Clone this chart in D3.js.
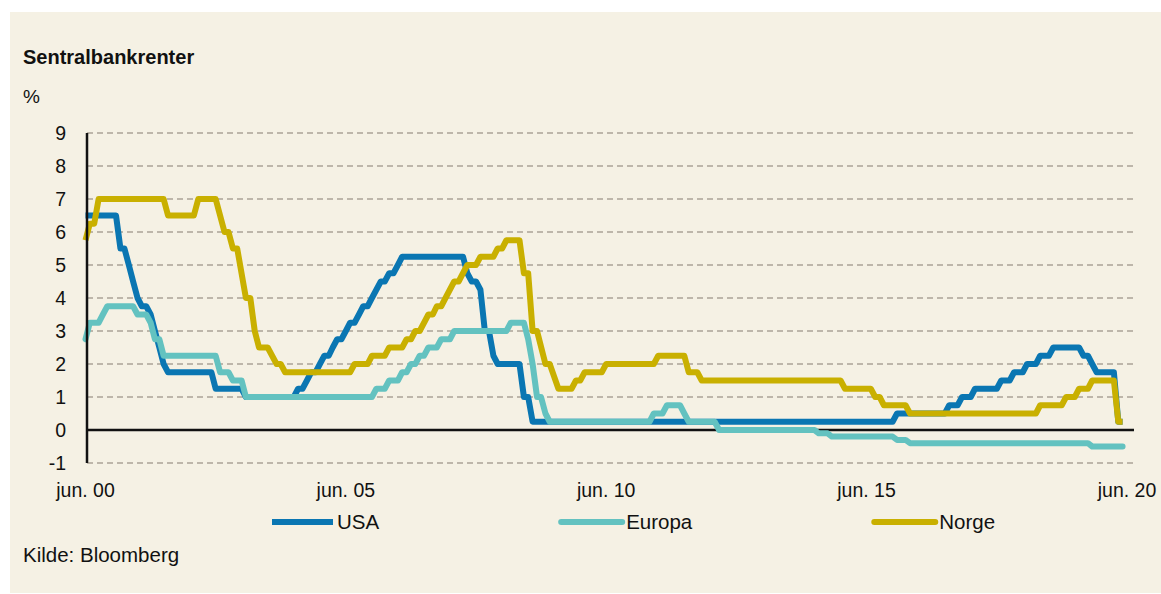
<!DOCTYPE html>
<html>
<head>
<meta charset="utf-8">
<script src="https://cdn.jsdelivr.net/npm/d3@7"></script>
<style>
  body { margin: 0; background: #ffffff; }
  text { font-family: "Liberation Sans", Arial, sans-serif; fill: #111; }
</style>
</head>
<body>
<div class="content"></div>
<script>
// Styrings-/sentralbankrenter, verdi ved starten av hver måned (hjørnepunkter i linja)
var usa = [
  ["2000-06",6.5],["2001-01",6.5],["2001-02",5.5],["2001-03",5.5],["2001-04",5.0],["2001-05",4.5],
  ["2001-06",4.0],["2001-07",3.75],["2001-08",3.75],["2001-09",3.5],["2001-10",3.0],["2001-11",2.5],
  ["2001-12",2.0],["2002-01",1.75],["2002-11",1.75],["2002-12",1.25],["2003-06",1.25],["2003-07",1.0],
  ["2004-06",1.0],["2004-07",1.25],["2004-08",1.25],["2004-09",1.5],["2004-10",1.75],["2004-11",1.75],
  ["2004-12",2.0],["2005-01",2.25],["2005-02",2.25],["2005-03",2.5],["2005-04",2.75],["2005-05",2.75],
  ["2005-06",3.0],["2005-07",3.25],["2005-08",3.25],["2005-09",3.5],["2005-10",3.75],["2005-11",3.75],
  ["2005-12",4.0],["2006-01",4.25],["2006-02",4.5],["2006-03",4.5],["2006-04",4.75],["2006-05",4.75],
  ["2006-06",5.0],["2006-07",5.25],["2007-09",5.25],["2007-10",4.75],["2007-11",4.5],["2007-12",4.5],
  ["2008-01",4.25],["2008-02",3.0],["2008-03",3.0],["2008-04",2.25],["2008-05",2.0],["2008-10",2.0],
  ["2008-11",1.0],["2008-12",1.0],["2009-01",0.25],["2015-12",0.25],["2016-01",0.5],["2016-12",0.5],
  ["2017-01",0.75],["2017-03",0.75],["2017-04",1.0],["2017-06",1.0],["2017-07",1.25],["2017-12",1.25],
  ["2018-01",1.5],["2018-03",1.5],["2018-04",1.75],["2018-06",1.75],["2018-07",2.0],["2018-09",2.0],
  ["2018-10",2.25],["2018-12",2.25],["2019-01",2.5],["2019-07",2.5],["2019-08",2.25],["2019-09",2.25],
  ["2019-10",2.0],["2019-11",1.75],["2020-03",1.75],["2020-04",0.25],["2020-05",0.25]
];

var europa = [
  ["2000-06",2.75],["2000-07",3.25],["2000-09",3.25],["2000-10",3.5],["2000-11",3.75],["2001-05",3.75],
  ["2001-06",3.5],["2001-08",3.5],["2001-09",3.25],["2001-10",2.75],["2001-11",2.75],["2001-12",2.25],
  ["2002-12",2.25],["2003-01",1.75],["2003-03",1.75],["2003-04",1.5],["2003-06",1.5],["2003-07",1.0],
  ["2005-12",1.0],["2006-01",1.25],["2006-03",1.25],["2006-04",1.5],["2006-06",1.5],["2006-07",1.75],
  ["2006-08",1.75],["2006-09",2.0],["2006-10",2.0],["2006-11",2.25],["2006-12",2.25],["2007-01",2.5],
  ["2007-03",2.5],["2007-04",2.75],["2007-06",2.75],["2007-07",3.0],["2008-07",3.0],["2008-08",3.25],
  ["2008-11",3.25],["2008-12",2.75],["2009-01",2.0],["2009-02",1.0],["2009-03",1.0],["2009-04",0.5],
  ["2009-05",0.25],["2011-04",0.25],["2011-05",0.5],["2011-07",0.5],["2011-08",0.75],["2011-11",0.75],
  ["2011-12",0.5],["2012-01",0.25],["2012-07",0.25],["2012-08",0.0],["2014-06",0.0],["2014-07",-0.1],
  ["2014-09",-0.1],["2014-10",-0.2],["2015-12",-0.2],["2016-01",-0.3],["2016-03",-0.3],["2016-04",-0.4],
  ["2019-09",-0.4],["2019-10",-0.5],["2020-05",-0.5]
];

var norge = [
  ["2000-06",5.75],["2000-07",6.25],["2000-08",6.25],["2000-09",7.0],["2001-12",7.0],["2002-01",6.5],
  ["2002-07",6.5],["2002-08",7.0],["2002-12",7.0],["2003-02",6.0],["2003-03",6.0],["2003-04",5.5],
  ["2003-05",5.5],["2003-07",4.0],["2003-08",4.0],["2003-09",3.0],["2003-10",2.5],["2003-12",2.5],
  ["2004-01",2.25],["2004-02",2.0],["2004-03",2.0],["2004-04",1.75],["2005-07",1.75],["2005-08",2.0],
  ["2005-11",2.0],["2005-12",2.25],["2006-03",2.25],["2006-04",2.5],["2006-07",2.5],["2006-08",2.75],
  ["2006-09",2.75],["2006-10",3.0],["2006-11",3.0],["2007-01",3.5],["2007-02",3.5],["2007-03",3.75],
  ["2007-04",3.75],["2007-05",4.0],["2007-07",4.5],["2007-08",4.5],["2007-10",5.0],["2007-12",5.0],
  ["2008-01",5.25],["2008-04",5.25],["2008-05",5.5],["2008-06",5.5],["2008-07",5.75],["2008-10",5.75],
  ["2008-11",4.75],["2008-12",4.75],["2009-01",3.0],["2009-02",3.0],["2009-04",2.0],["2009-05",2.0],
  ["2009-07",1.25],["2009-10",1.25],["2009-11",1.5],["2009-12",1.5],["2010-01",1.75],["2010-05",1.75],
  ["2010-06",2.0],["2011-05",2.0],["2011-06",2.25],["2011-12",2.25],["2012-01",1.75],["2012-03",1.75],
  ["2012-04",1.5],["2014-12",1.5],["2015-01",1.25],["2015-07",1.25],["2015-08",1.0],["2015-09",1.0],
  ["2015-10",0.75],["2016-03",0.75],["2016-04",0.5],["2018-09",0.5],["2018-10",0.75],["2019-03",0.75],
  ["2019-04",1.0],["2019-06",1.0],["2019-07",1.25],["2019-09",1.25],["2019-10",1.5],["2020-03",1.5],
  ["2020-04",0.25],["2020-05",0.25]
];

var seriesNames = ["USA", "Europa", "Norge"];
var seriesData = [usa, europa, norge];
var seriesColors = {"USA": "#0a76b2", "Europa": "#63c2c0", "Norge": "#c9b000"};

var yTicks = [-1, 0, 1, 2, 3, 4, 5, 6, 7, 8, 9];
var xTicks = ["2000-06", "2005-06", "2010-06", "2015-06", "2020-06"];
var xTickLabels = ["jun. 00", "jun. 05", "jun. 10", "jun. 15", "jun. 20"];

var parseMonth = d3.timeParse("%Y-%m");

var W = 1161, H = 594;

var svg = d3.select(".content").append("svg")
    .attr("width", W)
    .attr("height", H)
    .style("display", "block");

// cream panel
svg.append("rect")
  .attr("x", 10).attr("y", 12)
  .attr("width", W - 10).attr("height", 581)
  .attr("fill", "#f5f1e4");

var x = d3.scaleTime()
  .domain([parseMonth("2000-06"), parseMonth("2020-06")])
  .range([85.5, 1127]);

var y = d3.scaleLinear()
  .domain([-1, 9])
  .range([463, 133]);

var axisX = 87, gridRight = 1134;

// titles
svg.append("text")
  .attr("x", 23).attr("y", 64)
  .style("font-size", "20px").style("font-weight", "bold")
  .text("Sentralbankrenter");
svg.append("text")
  .attr("x", 23).attr("y", 103)
  .style("font-size", "19px")
  .text("%");

// dashed gridlines
svg.append("g")
  .selectAll("line")
  .data(yTicks.filter(function(d) { return d !== 0; }))
  .enter()
  .append("line")
    .attr("x1", axisX).attr("x2", gridRight)
    .attr("y1", function(d) { return y(d); })
    .attr("y2", function(d) { return y(d); })
    .attr("stroke", "#aaa297")
    .attr("stroke-width", 1.3)
    .attr("stroke-dasharray", "6,4");

// y tick labels
svg.append("g")
  .selectAll("text")
  .data(yTicks)
  .enter()
  .append("text")
    .attr("x", 66)
    .attr("y", function(d) { return y(d); })
    .attr("dy", "0.36em")
    .attr("text-anchor", "end")
    .style("font-size", "19.5px")
    .text(function(d) { return d; });

// x tick labels
svg.append("g")
  .selectAll("text")
  .data(xTicks)
  .enter()
  .append("text")
    .attr("x", function(d) { return x(parseMonth(d)); })
    .attr("y", 497)
    .attr("text-anchor", "middle")
    .style("font-size", "19.5px")
    .text(function(d, i) { return xTickLabels[i]; });

// zero line
svg.append("line")
  .attr("x1", axisX).attr("x2", gridRight)
  .attr("y1", y(0)).attr("y2", y(0))
  .attr("stroke", "#111").attr("stroke-width", 2.5);

// series lines
var line = d3.line()
  .x(function(d) { return x(parseMonth(d[0])); })
  .y(function(d) { return y(d[1]); });

svg.append("g")
  .selectAll("path")
  .data(seriesNames)
  .enter()
  .append("path")
    .attr("d", function(d, i) { return line(seriesData[i]); })
    .attr("fill", "none")
    .attr("stroke", function(d) { return seriesColors[d]; })
    .attr("stroke-width", 6)
    .attr("stroke-linejoin", "round")
    .attr("stroke-linecap", function(d) { return d === "Europa" ? "round" : "butt"; });

// y axis
svg.append("line")
  .attr("x1", axisX).attr("x2", axisX)
  .attr("y1", y(9)).attr("y2", y(-1))
  .attr("stroke", "#111").attr("stroke-width", 2.5);

// legend
var legendX = 272, legendY = 522, swatch = 61, legendGap = 182;
seriesNames.forEach(function(name) {
  var g = svg.append("g");
  g.append("line")
    .attr("x1", legendX).attr("x2", legendX + swatch)
    .attr("y1", legendY).attr("y2", legendY)
    .attr("stroke", seriesColors[name])
    .attr("stroke-width", 6)
    .attr("stroke-linecap", name === "USA" ? "butt" : "round");
  var t = g.append("text")
    .attr("x", legendX + swatch + 4)
    .attr("y", legendY + 7)
    .style("font-size", "20.5px")
    .text(name);
  legendX += swatch + 4 + t.node().getComputedTextLength() + legendGap;
});

// source
svg.append("text")
  .attr("x", 23).attr("y", 562)
  .style("font-size", "20.5px")
  .text("Kilde: Bloomberg");
</script>
</body>
</html>
